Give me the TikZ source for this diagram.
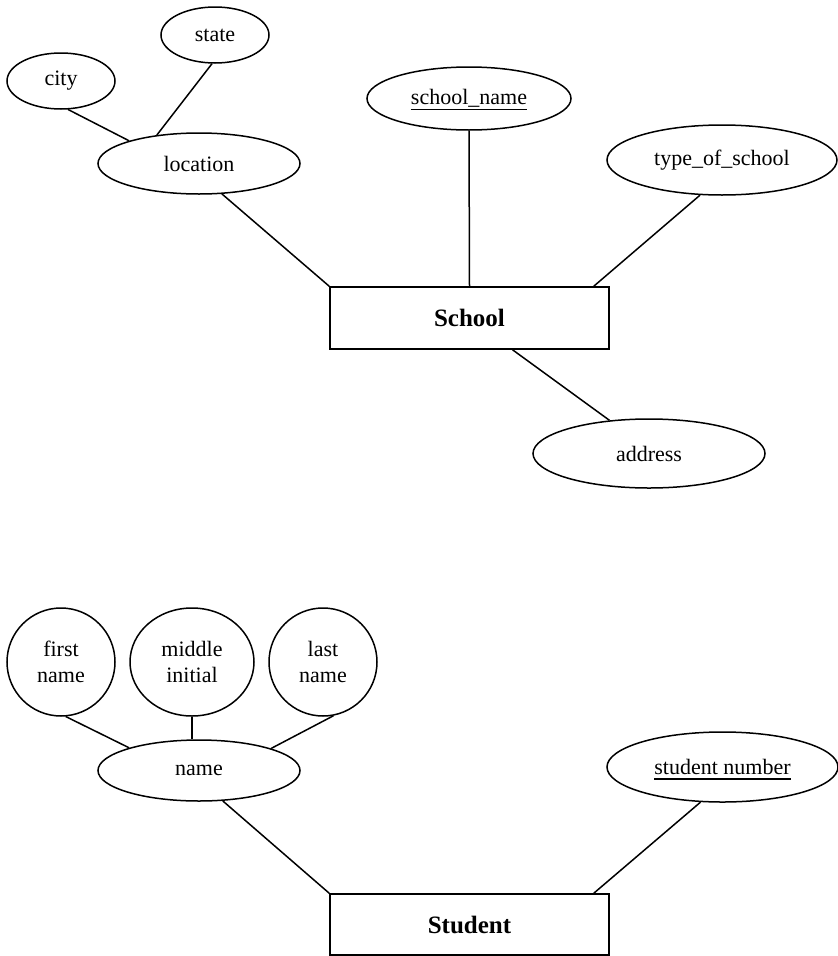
\documentclass[tikz,border=0pt]{standalone}
\usepackage{fontspec}
\setmainfont{Liberation Serif}
\usetikzlibrary{shapes.geometric}
% key attributes: a heavier underline set a little below the baseline
\newcommand{\keyul}[1]{\setbox0\hbox{#1}\rlap{\smash{\rule[-5.5pt]{\wd0}{1.7pt}}}\box0}
\begin{document}
\begin{tikzpicture}[x=1pt,y=-1pt,
  attr/.style={draw, ellipse, inner sep=0pt, line width=1.5pt,
    font=\fontsize{22}{26}\selectfont, align=center},
  entity/.style={draw, rectangle, inner sep=0pt, line width=1.5pt,
    minimum width=279pt, minimum height=62pt,
    font=\fontsize{25}{30}\selectfont\bfseries},
  link/.style={line width=1.5pt}]
\useasboundingbox (0,0) rectangle (838,956);

% School entity and its attributes
\node[attr, minimum width=108pt, minimum height=56pt] (state) at (215,35) {state};
\node[attr, minimum width=108pt, minimum height=56pt] (city) at (61,81) {city};
\node[attr, minimum width=202pt, minimum height=61pt] (loc) at (199,163.5) {location};
\node[attr, minimum width=204pt, minimum height=63pt] (sname) at (469,98.5) {\keyul{school\_name}};
\node[attr, minimum width=230pt, minimum height=70pt] (type) at (722,160) {type\_of\_school};
\node[entity] (school) at (469.5,318) {School};
\node[attr, minimum width=232pt, minimum height=69pt] (addr) at (649,453.5) {address};

\draw[link] (city.-76) -- (loc.162);
\draw[link] (state.-96) -- (loc.146);
\draw[link] (loc.-53) -- (school.north west);
\draw[link] (sname.south) -- (school.north);
\draw[link] (type.-122.6) -- ([xshift=-16pt]school.north east);
\draw[link] ([xshift=43pt]school.south) -- (addr.140.6);

% Student entity and its attributes
\node[attr, minimum width=108pt, minimum height=108pt] (first) at (61,662) {first\\name};
\node[attr, minimum width=124pt, minimum height=108pt] (middle) at (192,662) {middle\\initial};
\node[attr, minimum width=108pt, minimum height=108pt] (last) at (323,662) {last\\name};
\node[attr, minimum width=202pt, minimum height=61pt] (name) at (199,770.5) {name};
\node[attr, minimum width=231pt, minimum height=70pt] (snum) at (722.5,767) {\keyul{student number}};
\node[entity, minimum height=61pt] (student) at (469.5,924.5) {Student};

\draw[link] (first.-85) -- (name.162);
\draw[link] (middle.south) -- (name.north -| middle.south);
\draw[link] (last.-79.5) -- (name.17);
\draw[link] (name.-52) -- (student.north west);
\draw[link] (snum.-122.6) -- ([xshift=-16pt]student.north east);
\end{tikzpicture}
\end{document}
